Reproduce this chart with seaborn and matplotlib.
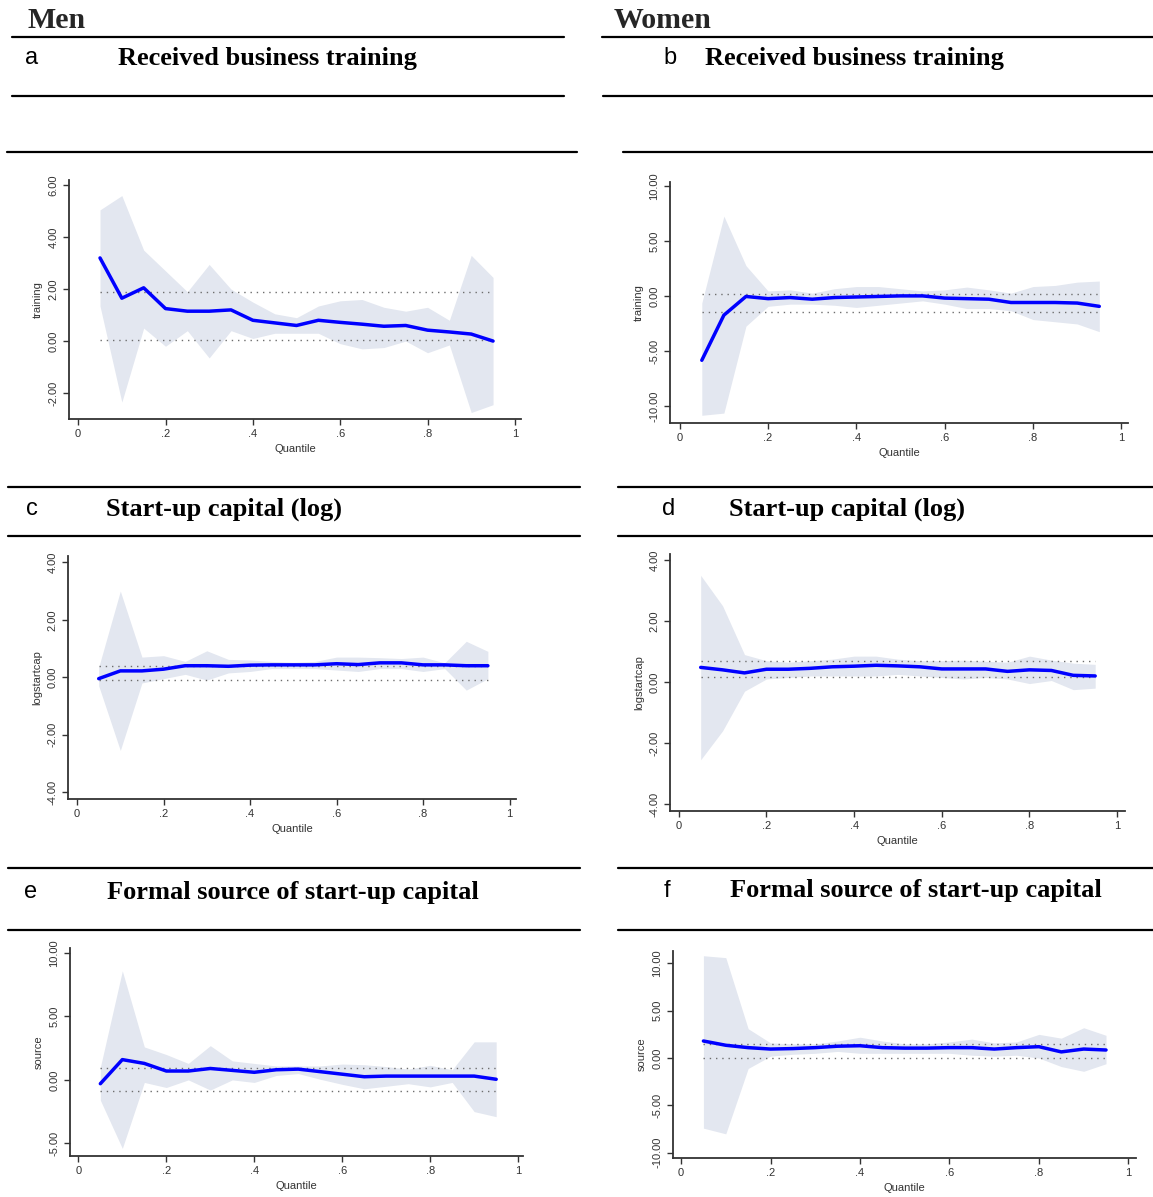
import matplotlib
matplotlib.use("Agg")
import matplotlib.pyplot as plt
from matplotlib.lines import Line2D
import numpy as np
import pandas as pd
import seaborn as sns

W, H = 1153, 1197

quantiles = [0.05, 0.10, 0.15, 0.20, 0.25, 0.30, 0.35, 0.40, 0.45, 0.50,
             0.55, 0.60, 0.65, 0.70, 0.75, 0.80, 0.85, 0.90, 0.95]

# a  men, training
men_training = [3.2, 1.65, 2.05, 1.25, 1.15, 1.15, 1.2, 0.8, 0.7, 0.6,
                0.8, 0.72, 0.65, 0.57, 0.6, 0.42, 0.35, 0.27, 0.0]
men_training_hi = [5.05, 5.6, 3.5, 2.7, 1.9, 2.95, 2.0, 1.5, 1.05, 0.9,
                   1.35, 1.55, 1.6, 1.3, 1.15, 1.3, 0.8, 3.3, 2.45]
men_training_lo = [1.35, -2.35, 0.5, -0.2, 0.4, -0.65, 0.4, 0.1, 0.3, 0.3,
                   0.3, -0.1, -0.3, -0.25, 0.0, -0.45, -0.15, -2.75, -2.45]
men_training_ols = [0.05, 1.88]

# b  women, training
women_training = [-5.8, -1.7, 0.0, -0.2, -0.1, -0.25, -0.1, -0.05, 0.0, 0.05,
                  0.05, -0.15, -0.2, -0.25, -0.55, -0.55, -0.55, -0.6, -0.9]
women_training_hi = [-0.6, 7.3, 2.8, 0.5, 0.6, 0.3, 0.7, 0.9, 0.9, 0.7,
                     0.5, 0.6, 0.85, 0.6, 0.3, 0.9, 1.0, 1.3, 1.4]
women_training_lo = [-10.8, -10.6, -2.7, -0.9, -0.7, -0.7, -0.8, -1.0, -0.8, -0.6,
                     -0.4, -0.7, -1.1, -1.1, -1.3, -2.1, -2.3, -2.5, -3.2]
women_training_ols = [-1.38, 0.24]

# c  men, log start-up capital
men_startcap = [-0.05, 0.22, 0.22, 0.28, 0.4, 0.4, 0.38, 0.42, 0.43, 0.43,
                0.43, 0.47, 0.44, 0.5, 0.5, 0.43, 0.43, 0.4, 0.4]
men_startcap_hi = [0.35, 3.0, 0.7, 0.75, 0.55, 0.92, 0.62, 0.6, 0.55, 0.52,
                   0.55, 0.7, 0.7, 0.68, 0.65, 0.7, 0.5, 1.25, 0.9]
men_startcap_lo = [-0.3, -2.55, -0.2, -0.05, 0.1, -0.1, 0.15, 0.2, 0.3, 0.3,
                   0.3, 0.25, 0.2, 0.3, 0.3, 0.2, 0.3, -0.45, -0.05]
men_startcap_ols = [-0.1, 0.4]

# d  women, log start-up capital
women_startcap = [0.48, 0.4, 0.3, 0.42, 0.42, 0.45, 0.5, 0.52, 0.55, 0.53,
                  0.5, 0.43, 0.43, 0.43, 0.35, 0.4, 0.38, 0.22, 0.2]
women_startcap_hi = [3.5, 2.5, 0.9, 0.7, 0.65, 0.7, 0.75, 0.85, 0.85, 0.75,
                     0.7, 0.7, 0.72, 0.68, 0.65, 0.85, 0.72, 0.62, 0.58]
women_startcap_lo = [-2.55, -1.6, -0.3, 0.1, 0.15, 0.2, 0.2, 0.2, 0.2, 0.25,
                     0.2, 0.15, 0.1, 0.15, 0.1, -0.05, 0.05, -0.25, -0.2]
women_startcap_ols = [0.18, 0.68]

# e  men, formal source
men_source = [-0.3, 1.6, 1.3, 0.7, 0.7, 0.9, 0.75, 0.6, 0.8, 0.85,
              0.65, 0.45, 0.25, 0.3, 0.3, 0.3, 0.3, 0.3, 0.05]
men_source_hi = [1.0, 8.6, 2.6, 2.0, 1.3, 2.7, 1.5, 1.3, 1.1, 1.1,
                 1.1, 1.25, 1.2, 1.05, 0.85, 1.15, 0.8, 3.0, 3.0]
men_source_lo = [-1.6, -5.4, -0.2, -0.6, 0.0, -0.8, 0.0, -0.2, 0.35, 0.5,
                 0.05, -0.35, -0.7, -0.5, -0.3, -0.55, -0.2, -2.5, -2.9]
men_source_ols = [-0.85, 0.9]

# f  women, formal source
women_source = [1.8, 1.35, 1.1, 0.95, 1.0, 1.1, 1.25, 1.3, 1.1, 1.05,
                1.05, 1.1, 1.1, 0.95, 1.1, 1.2, 0.65, 0.95, 0.85]
women_source_hi = [10.8, 10.6, 3.1, 1.6, 1.5, 1.5, 1.8, 2.2, 1.8, 1.5,
                   1.5, 1.7, 2.0, 1.6, 1.7, 2.5, 2.1, 3.2, 2.4]
women_source_lo = [-7.4, -8.0, -1.1, 0.2, 0.4, 0.5, 0.7, 0.5, 0.5, 0.5,
                   0.5, 0.5, 0.3, 0.2, 0.3, 0.0, -0.9, -1.4, -0.6]
women_source_ols = [0.0, 1.5]

xticks = [0, 0.2, 0.4, 0.6, 0.8, 1]
xticklabels = ["0", ".2", ".4", ".6", ".8", "1"]

sns.set_theme(style="white")
plt.rcParams["font.family"] = ["Liberation Sans", "DejaVu Sans"]

fig = plt.figure(figsize=(W / 100, H / 100), dpi=100)


def rect(l, t, r, b):
    return [l / W, 1 - b / H, (r - l) / W, (b - t) / H]


def hline(x0, x1, y):
    fig.add_artist(Line2D([x0 / W, x1 / W], [1 - y / H, 1 - y / H],
                          transform=fig.transFigure, color="black", lw=1.6))


def heading(letter, lx, tx, y, title):
    fig.text(lx / W, 1 - y / H, letter, fontsize=17, va="center", ha="left",
             family=["Liberation Sans"], color="black")
    fig.text(tx / W, 1 - y / H, title, fontsize=19, va="center", ha="left",
             family=["Liberation Serif"], weight="bold", color="black")


# column headings and rules
fig.text(28 / W, 1 - 21 / H, "Men", fontsize=21.5, va="center", ha="left",
         family=["Liberation Serif"], weight="bold")
fig.text(614 / W, 1 - 21 / H, "Women", fontsize=21.5, va="center", ha="left",
         family=["Liberation Serif"], weight="bold")
hline(12, 564, 37); hline(602, 1153, 37)
hline(12, 564, 96); hline(603, 1153, 96)
hline(7, 577, 152); hline(623, 1153, 152)
hline(8, 580, 487); hline(618, 1153, 487)
hline(8, 580, 536); hline(618, 1153, 536)
hline(8, 580, 868); hline(618, 1153, 868)
hline(8, 580, 930); hline(618, 1153, 930)

heading("a", 25, 118, 58, "Received business training")
heading("b", 663, 705, 58, "Received business training")
heading("c", 26, 106, 509, "Start-up capital (log)")
heading("d", 662, 729, 509, "Start-up capital (log)")
heading("e", 24, 107, 892, "Formal source of start-up capital")
heading("f", 664, 730, 891, "Formal source of start-up capital")

panels = [
    (rect(69, 180, 521, 419), men_training, men_training_lo, men_training_hi,
     men_training_ols, "training", (-0.021, 1.014), (-3.0, 6.2), [-2, 0, 2, 4, 6]),
    (rect(670, 182, 1128, 423), women_training, women_training_lo, women_training_hi,
     women_training_ols, "training", (-0.022, 1.015), (-11.5, 10.4), [-10, -5, 0, 5, 10]),
    (rect(68, 556, 516, 799), men_startcap, men_startcap_lo, men_startcap_hi,
     men_startcap_ols, "logstartcap", (-0.021, 1.015), (-4.24, 4.22), [-4, -2, 0, 2, 4]),
    (rect(670, 554, 1125, 811), women_startcap, women_startcap_lo, women_startcap_hi,
     women_startcap_ols, "logstartcap", (-0.02, 1.018), (-4.23, 4.2), [-4, -2, 0, 2, 4]),
    (rect(70, 948, 523, 1156), men_source, men_source_lo, men_source_hi,
     men_source_ols, "source", (-0.019, 1.011), (-6.0, 10.4), [-5, 0, 5, 10]),
    (rect(673, 951, 1136, 1158), women_source, women_source_lo, women_source_hi,
     women_source_ols, "source", (-0.018, 1.017), (-10.55, 11.3), [-10, -5, 0, 5, 10]),
]

for pos, coef, lo, hi, ols, ylab, xl, yl, yt in panels:
    ax = fig.add_axes(pos)
    df = pd.DataFrame({"q": quantiles, "coef": coef, "lo": lo, "hi": hi})
    ax.fill_between(df["q"], df["lo"], df["hi"], color="#e3e7f0", lw=0)
    for v in ols:
        ax.plot([quantiles[0], quantiles[-1]], [v, v], color="#6e6e6e",
                lw=1.0, ls=(0, (1, 3.5)))
    sns.lineplot(data=df, x="q", y="coef", ax=ax, color="#0000ff", lw=2.5)
    ax.set_xlim(*xl)
    ax.set_ylim(*yl)
    ax.set_xticks(xticks)
    ax.set_xticklabels(xticklabels)
    ax.set_yticks(yt)
    ax.set_yticklabels([f"{v:.2f}" for v in yt], rotation=90, va="center")
    ax.set_xlabel("Quantile", fontsize=8, color="#333333", labelpad=3)
    ax.set_ylabel(ylab, fontsize=8, color="#333333")
    ax.tick_params(axis="both", labelsize=8, colors="#333333", length=4,
                   width=1, direction="out", left=True, bottom=True)
    for s in ["top", "right"]:
        ax.spines[s].set_visible(False)
    for s in ["left", "bottom"]:
        ax.spines[s].set_color("#333333")
        ax.spines[s].set_linewidth(1.3)
    ax.set_facecolor("white")

fig.savefig("out.png", dpi=100, facecolor="white")
